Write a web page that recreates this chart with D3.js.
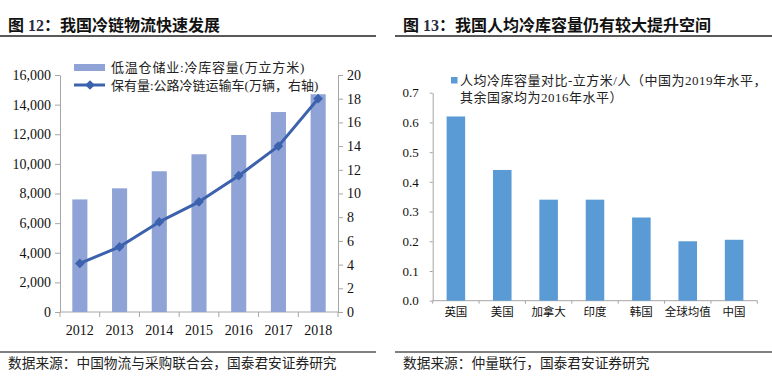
<!DOCTYPE html>
<html>
<head>
<meta charset="utf-8">
<script src="https://cdn.jsdelivr.net/npm/d3@7"></script>
<style>
  body { margin: 0; background: #fff; }
  svg { display: block; }
</style>
</head>
<body>
<svg id="chart" width="772" height="383"></svg>
<script>
// data
var years = ["2012", "2013", "2014", "2015", "2016", "2017", "2018"];
var coldStorage = [7600, 8350, 9500, 10650, 11950, 13500, 14700];   // 万立方米
var trucks = [4.1, 5.5, 7.6, 9.3, 11.5, 14.0, 18.0];               // 万辆
var storageTicks = [0, 2000, 4000, 6000, 8000, 10000, 12000, 14000, 16000];
var truckTicks = [0, 2, 4, 6, 8, 10, 12, 14, 16, 18, 20];

var countries = ["英国", "美国", "加拿大", "印度", "韩国", "全球均值", "中国"];
var perCapita = [0.62, 0.44, 0.34, 0.34, 0.28, 0.20, 0.205];
var ratioTicks = [0, 0.1, 0.2, 0.3, 0.4, 0.5, 0.6, 0.7];

var barColor = "#8fa3d6",
    lineColor = "#3c62ad",
    barColor2 = "#5b9bd5",
    axisColor = "#a6a6a6",
    serif = "'Liberation Serif', 'Noto Sans CJK SC', serif";

var svg = d3.select("#chart");

// ---- headers and footers
function header(x0, x1, num, text) {
    var t = svg.append("text")
        .attr("x", x0 + 8).attr("y", 31)
        .attr("font-family", serif)
        .attr("font-size", 16).attr("font-weight", "bold")
        .attr("fill", "#111");
    t.append("tspan").text("图 ");
    t.append("tspan").attr("fill", "#2b2b45").text(num);
    t.append("tspan").text("：" + text);
    svg.append("line")
        .attr("x1", x0).attr("x2", x1).attr("y1", 36).attr("y2", 36)
        .attr("stroke", "#222").attr("stroke-width", 1.5);
}
function footer(x0, x1, text) {
    svg.append("line")
        .attr("x1", x0).attr("x2", x1).attr("y1", 352).attr("y2", 352)
        .attr("stroke", "#808080").attr("stroke-width", 2);
    svg.append("text")
        .attr("x", x0 + 8).attr("y", 368)
        .attr("font-family", serif)
        .attr("font-size", 13.7)
        .attr("fill", "#222")
        .text(text);
}
header(0, 376, "12", "我国冷链物流快速发展");
header(395, 772, "13", "我国人均冷库容量仍有较大提升空间");
footer(0, 376, "数据来源：中国物流与采购联合会，国泰君安证券研究");
footer(395, 772, "数据来源：仲量联行，国泰君安证券研究");

// ---- left chart
var x = d3.scaleBand().domain(years).range([60, 338]).padding(0);
var yL = d3.scaleLinear().domain([0, 16000]).range([312, 75]);
var yR = d3.scaleLinear().domain([0, 20]).range([312, 75]);

function styleAxis(g, size) {
    g.selectAll("path, line").attr("stroke", axisColor);
    g.selectAll("text")
        .attr("font-family", serif)
        .attr("font-size", size)
        .attr("fill", "#111");
}

svg.append("g")
    .attr("transform", "translate(60,0)")
    .call(d3.axisLeft(yL).tickValues(storageTicks).tickFormat(d3.format(",")).tickSize(5).tickSizeOuter(0).tickPadding(4))
    .call(styleAxis, 14);

svg.append("g")
    .attr("transform", "translate(338,0)")
    .call(d3.axisRight(yR).tickValues(truckTicks).tickSize(5).tickSizeOuter(0).tickPadding(4))
    .call(styleAxis, 14);

var xAxisL = svg.append("g").attr("transform", "translate(0,312)");
xAxisL.append("line")
    .attr("x1", 60).attr("x2", 338)
    .attr("stroke", axisColor);
xAxisL.selectAll("line.tk")
    .data(years.concat(["end"]))
    .enter().append("line")
    .attr("class", "tk")
    .attr("x1", function (d, i) { return i < years.length ? x(d) : x.range()[1]; })
    .attr("x2", function (d, i) { return i < years.length ? x(d) : x.range()[1]; })
    .attr("y1", 0).attr("y2", 5)
    .attr("stroke", axisColor);
xAxisL.selectAll("text")
    .data(years)
    .enter().append("text")
    .attr("x", function (d) { return x(d) + x.bandwidth() / 2; })
    .attr("y", 23)
    .attr("text-anchor", "middle")
    .attr("font-family", serif)
    .attr("font-size", 14)
    .attr("fill", "#111")
    .text(function (d) { return d; });

var bw = x.bandwidth() * 0.38;
svg.selectAll("rect.storage")
    .data(years)
    .enter().append("rect")
    .attr("class", "storage")
    .attr("x", function (d) { return x(d) + (x.bandwidth() - bw) / 2; })
    .attr("width", bw)
    .attr("y", function (d, i) { return yL(coldStorage[i]); })
    .attr("height", function (d, i) { return yL(0) - yL(coldStorage[i]); })
    .attr("fill", barColor);

var line = d3.line()
    .x(function (d, i) { return x(years[i]) + x.bandwidth() / 2; })
    .y(function (d) { return yR(d); });

svg.append("path")
    .datum(trucks)
    .attr("fill", "none")
    .attr("stroke", lineColor)
    .attr("stroke-width", 3)
    .attr("stroke-linejoin", "round")
    .attr("d", line);

var diamond = d3.symbol().type(d3.symbolDiamond2).size(60);
svg.selectAll("path.pt")
    .data(trucks)
    .enter().append("path")
    .attr("class", "pt")
    .attr("transform", function (d, i) {
        return "translate(" + (x(years[i]) + x.bandwidth() / 2) + "," + yR(d) + ")";
    })
    .attr("d", diamond)
    .attr("fill", lineColor);

// left legend
svg.append("rect")
    .attr("x", 74).attr("y", 64).attr("width", 31).attr("height", 7)
    .attr("fill", barColor);
svg.append("text")
    .attr("x", 111).attr("y", 72)
    .attr("font-family", serif).attr("font-size", 13).attr("fill", "#222")
    .attr("letter-spacing", 0.8)
    .text("低温仓储业:冷库容量(万立方米)");
svg.append("line")
    .attr("x1", 74).attr("x2", 105).attr("y1", 85).attr("y2", 85)
    .attr("stroke", lineColor).attr("stroke-width", 3);
svg.append("path")
    .attr("transform", "translate(90,85)")
    .attr("d", diamond)
    .attr("fill", lineColor);
svg.append("text")
    .attr("x", 111).attr("y", 90)
    .attr("font-family", serif).attr("font-size", 13).attr("fill", "#222")
    .text("保有量:公路冷链运输车(万辆，右轴)");

// ---- right chart
var x2 = d3.scaleBand().domain(countries).range([432.7, 757.3]).padding(0);
var y2 = d3.scaleLinear().domain([0, 0.7]).range([300.7, 92.7]);

svg.append("g")
    .attr("transform", "translate(432.7,0)")
    .call(d3.axisLeft(y2).tickValues(ratioTicks).tickFormat(d3.format(".1f")).tickSize(3).tickSizeOuter(0).tickPadding(11))
    .call(styleAxis, 13);

var xAxisR = svg.append("g").attr("transform", "translate(0,300.7)");
xAxisR.append("line")
    .attr("x1", 432.7).attr("x2", 757.3)
    .attr("stroke", axisColor);
xAxisR.selectAll("line.tk")
    .data(countries.concat(["end"]))
    .enter().append("line")
    .attr("class", "tk")
    .attr("x1", function (d, i) { return i < countries.length ? x2(d) : x2.range()[1]; })
    .attr("x2", function (d, i) { return i < countries.length ? x2(d) : x2.range()[1]; })
    .attr("y1", 0).attr("y2", 3)
    .attr("stroke", axisColor);
xAxisR.selectAll("text")
    .data(countries)
    .enter().append("text")
    .attr("x", function (d) { return x2(d) + x2.bandwidth() / 2; })
    .attr("y", 15)
    .attr("text-anchor", "middle")
    .attr("font-family", serif)
    .attr("font-size", 11.5)
    .attr("fill", "#111")
    .text(function (d) { return d; });

var bw2 = x2.bandwidth() * 0.4;
svg.selectAll("rect.ratio")
    .data(countries)
    .enter().append("rect")
    .attr("class", "ratio")
    .attr("x", function (d) { return x2(d) + (x2.bandwidth() - bw2) / 2; })
    .attr("width", bw2)
    .attr("y", function (d, i) { return y2(perCapita[i]); })
    .attr("height", function (d, i) { return y2(0) - y2(perCapita[i]); })
    .attr("fill", barColor2);

// right legend
svg.append("rect")
    .attr("x", 451).attr("y", 77).attr("width", 6.5).attr("height", 6.5)
    .attr("fill", barColor2);
var lg = svg.append("text")
    .attr("font-family", serif).attr("font-size", 13).attr("fill", "#222")
    .attr("letter-spacing", 0.5);
lg.append("tspan").attr("x", 460).attr("y", 85)
    .text("人均冷库容量对比-立方米/人（中国为2019年水平，");
lg.append("tspan").attr("x", 460).attr("y", 102)
    .text("其余国家均为2016年水平）");
</script>
</body>
</html>
